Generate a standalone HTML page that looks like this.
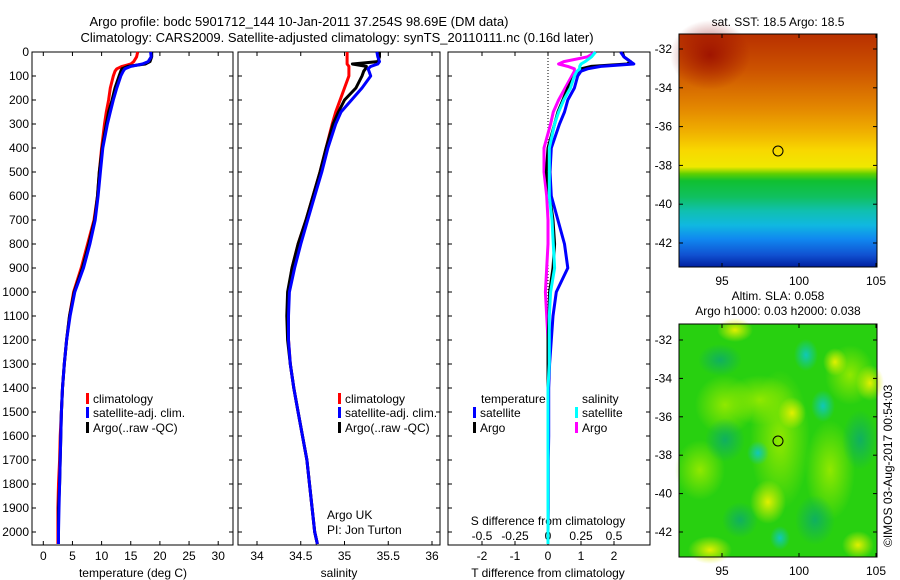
<!DOCTYPE html>
<html><head><meta charset="utf-8"><style>
html,body{margin:0;padding:0;background:#fff;}
svg{display:block;font-family:"Liberation Sans",sans-serif;}
text{font-size:12px;fill:#000;}
</style></head><body>
<svg id="fig" width="900" height="580" viewBox="0 0 900 580">
<defs>
<linearGradient id="sstGrad" x1="0" y1="0" x2="0" y2="1">
<stop offset="0" stop-color="#b83000"/><stop offset="0.15" stop-color="#cc5200"/>
<stop offset="0.32" stop-color="#e48800"/><stop offset="0.42" stop-color="#f0b000"/>
<stop offset="0.5" stop-color="#f8d800"/><stop offset="0.57" stop-color="#f0e800"/>
<stop offset="0.6" stop-color="#60d000"/><stop offset="0.63" stop-color="#10c030"/>
<stop offset="0.7" stop-color="#10c060"/><stop offset="0.76" stop-color="#10c0b0"/>
<stop offset="0.82" stop-color="#10b8e0"/><stop offset="0.88" stop-color="#1088f0"/>
<stop offset="0.95" stop-color="#1050d0"/><stop offset="1" stop-color="#0020a0"/>
</linearGradient>
<radialGradient id="blobY"><stop offset="0" stop-color="#e0f000"/><stop offset="1" stop-color="#e0f000" stop-opacity="0"/></radialGradient>
<radialGradient id="blobT"><stop offset="0" stop-color="#10c8b8"/><stop offset="1" stop-color="#10c8b8" stop-opacity="0"/></radialGradient>
<radialGradient id="blobD"><stop offset="0" stop-color="#10b060"/><stop offset="1" stop-color="#10b060" stop-opacity="0"/></radialGradient>
<radialGradient id="blobR"><stop offset="0" stop-color="#900000" stop-opacity="0.7"/><stop offset="1" stop-color="#900000" stop-opacity="0"/></radialGradient>
<radialGradient id="blobG"><stop offset="0" stop-color="#90e800"/><stop offset="1" stop-color="#90e800" stop-opacity="0"/></radialGradient>
</defs>
<text x="299" y="26" text-anchor="middle" style="font-size:13px">Argo profile: bodc 5901712_144 10-Jan-2011 37.254S 98.69E (DM data)</text>
<text x="337" y="42" text-anchor="middle" style="font-size:13px">Climatology: CARS2009. Satellite-adjusted climatology: synTS_20110111.nc (0.16d later)</text>
<g id="panels"></g>
<g id="maps">
<text x="778" y="26" text-anchor="middle">sat. SST: 18.5 Argo: 18.5</text>
<rect x="679" y="34" width="198" height="233" fill="url(#sstGrad)"/>
<ellipse cx="710" cy="55" rx="40" ry="35" fill="url(#blobR)"/>
<rect x="679" y="34" width="198" height="233" fill="none" stroke="#000"/>
<circle cx="778" cy="151" r="5" fill="none" stroke="#000"/>
<text x="778" y="300" text-anchor="middle">Altim. SLA: 0.058</text>
<text x="778" y="315" text-anchor="middle">Argo h1000: 0.03 h2000: 0.038</text>
<rect x="679" y="324" width="198" height="233" fill="#28d010"/>
<ellipse cx="780" cy="440" rx="30" ry="70" fill="url(#blobG)"/>
<ellipse cx="760" cy="400" rx="35" ry="25" fill="url(#blobG)"/>
<ellipse cx="830" cy="470" rx="25" ry="50" fill="url(#blobG)"/>
<ellipse cx="725" cy="405" rx="30" ry="30" fill="url(#blobG)"/>
<ellipse cx="700" cy="470" rx="25" ry="30" fill="url(#blobG)"/>
<ellipse cx="850" cy="375" rx="25" ry="30" fill="url(#blobG)"/>
<ellipse cx="768" cy="502" rx="18" ry="22" fill="url(#blobY)"/>
<ellipse cx="792" cy="413" rx="14" ry="16" fill="url(#blobY)"/>
<ellipse cx="735" cy="330" rx="18" ry="12" fill="url(#blobY)"/>
<ellipse cx="870" cy="383" rx="14" ry="18" fill="url(#blobY)"/>
<ellipse cx="710" cy="550" rx="22" ry="14" fill="url(#blobY)"/>
<ellipse cx="858" cy="545" rx="16" ry="14" fill="url(#blobY)"/>
<ellipse cx="835" cy="362" rx="12" ry="14" fill="url(#blobY)"/>
<ellipse cx="806" cy="355" rx="12" ry="16" fill="url(#blobT)"/>
<ellipse cx="823" cy="406" rx="12" ry="16" fill="url(#blobT)"/>
<ellipse cx="758" cy="453" rx="11" ry="12" fill="url(#blobT)"/>
<ellipse cx="780" cy="538" rx="10" ry="12" fill="url(#blobT)"/>
<ellipse cx="725" cy="440" rx="20" ry="22" fill="url(#blobD)"/>
<ellipse cx="720" cy="360" rx="22" ry="16" fill="url(#blobD)"/>
<ellipse cx="860" cy="440" rx="18" ry="30" fill="url(#blobD)"/>
<ellipse cx="740" cy="520" rx="18" ry="18" fill="url(#blobD)"/>
<ellipse cx="815" cy="520" rx="20" ry="25" fill="url(#blobD)"/>
<rect x="679" y="324" width="198" height="233" fill="none" stroke="#000"/>
<circle cx="778" cy="441" r="5" fill="none" stroke="#000"/>
<text transform="translate(892,547) rotate(-90)">©IMOS 03-Aug-2017 00:54:03</text>
</g>
</svg>
<script>
// ---------- data ----------
const depths = [0,20,40,50,60,70,80,100,150,200,250,300,400,500,600,700,800,900,1000,1100,1200,1300,1400,1500,1600,1700,1800,1900,2000,2050];
const tempClim = [16.2,16,15.5,15,13.5,12.6,12.3,12,11.5,11.2,10.8,10.5,10,9.6,9.3,8.7,7.6,6.5,5.2,4.5,4.0,3.6,3.3,3.1,2.9,2.8,2.6,2.5,2.5,2.5];
const tempSat = [18.4,18.5,18,17,15,14,13.7,13.3,12.6,12,11.5,11,10.2,9.8,9.4,8.9,8,6.9,5.4,4.6,4.0,3.6,3.3,3.1,3.0,2.9,2.8,2.7,2.6,2.6];
const tempArgo = [18.6,18.6,18.3,17.5,14.5,13.5,13.3,13,12.3,11.8,11.2,10.8,10.1,9.6,9.3,8.8,7.8,6.7,5.3,4.5,4.0,3.6,3.3,3.1,3.0,2.9,2.8,2.6,2.6,2.6];
const salClim = [35.03,35.03,35.03,35.03,35.05,35.05,35.05,35.05,35.0,34.95,34.9,34.86,34.79,34.72,34.64,34.56,34.47,34.4,34.36,34.35,34.36,34.38,34.42,34.47,34.52,34.57,34.6,34.63,34.66,34.69];
const salSat = [35.37,35.38,35.4,35.38,35.3,35.27,35.28,35.3,35.2,35.08,34.96,34.9,34.81,34.74,34.66,34.58,34.5,34.43,34.37,34.36,34.36,34.38,34.42,34.47,34.52,34.57,34.6,34.63,34.66,34.69];
const salArgo = [35.4,35.4,35.38,35.09,35.25,35.24,35.22,35.2,35.13,35.0,34.93,34.87,34.79,34.72,34.64,34.56,34.47,34.4,34.35,34.34,34.35,34.38,34.42,34.47,34.52,34.57,34.6,34.63,34.66,34.69];
const tDiffSat = [2.2,2.3,2.5,2.6,1.6,1.2,1.0,0.9,0.8,0.6,0.5,0.35,0.1,0.06,0.1,0.3,0.5,0.6,0.25,0.15,0.1,0.05,0.02,0.02,0.02,0.01,0.01,0.01,0.0,0.0];
const tDiffArgo = [2.25,2.3,2.5,2.4,1.3,1.0,0.9,0.8,0.6,0.45,0.3,0.2,0.0,-0.05,0.05,0.15,0.2,0.15,0.05,0.03,0,0,0,0,0,0,0,0,0,0];
const sDiffSat = [0.36,0.33,0.28,0.25,0.24,0.24,0.22,0.2,0.17,0.12,0.08,0.05,0.01,0.01,0.01,0.03,0.04,0.05,0.02,0.01,0.01,0.01,0,0,0,0,0,0,0,0];
const sDiffArgo = [0.36,0.3,0.12,0.08,0.15,0.2,0.2,0.18,0.13,0.08,0.04,0.02,-0.03,-0.03,-0.01,0,0,-0.01,-0.02,-0.01,0,0,0,0,0,0,0,0,0,0];
const depthTicks = [0,100,200,300,400,500,600,700,800,900,1000,1100,1200,1300,1400,1500,1600,1700,1800,1900,2000];
const tempTicks = [0,5,10,15,20,25,30];
const salTicks = [34,34.5,35,35.5,36];
const tDiffTicks = [-2,-1,0,1,2];
const sDiffTicks = [-0.5,-0.25,0,0.25,0.5];
const lonTicks = [95,100,105];
const latTicks = [-32,-34,-36,-38,-40,-42];

// ---------- scales ----------
const NS='http://www.w3.org/2000/svg';
const TOP=52, BOT=545;
const yD = d => TOP + d*0.24;
const xT = t => 43.3 + t*5.83;
const xS = s => 257 + (s-34)*87.5;
const xDT = t => 548 + t*33;
const xDS = s => 548 + s*132;
const mapX = lon => 722 + (lon-95)*15.4;
const lat1Y = la => 49 + (-32-la)*19.4;
const lat2Y = la => 340 + (-32-la)*19.2;

const root=document.getElementById('panels');
function mk(tag,attrs,parent){const e=document.createElementNS(NS,tag);for(const k in attrs)e.setAttribute(k,attrs[k]);(parent||root).appendChild(e);return e;}
function txt(x,y,s,anchor,parent){const e=mk('text',{x:x,y:y,'text-anchor':anchor||'middle'},parent);e.textContent=s;return e;}

function panel(name,x0,x1){
  const g=mk('g',{});
  
  
  const r=mk('rect',{x:x0,y:TOP,width:x1-x0,height:BOT-TOP,fill:'none',stroke:'#000'},g);
  
  
  depthTicks.forEach(d=>{
    mk('line',{x1:x0,x2:x0+4,y1:yD(d),y2:yD(d),stroke:'#000'},g);
    mk('line',{x1:x1-4,x2:x1,y1:yD(d),y2:yD(d),stroke:'#000'},g);
  });
  return g;
}
function series(g,xf,vals,color,name,w){
  const pts=vals.map((v,i)=>xf(v).toFixed(1)+','+yD(depths[i]).toFixed(1)).join(' ');
  const p=mk('polyline',{points:pts,fill:'none',stroke:color,'stroke-width':w||3,'stroke-linejoin':'round'},g);
  
  
}
function xticks(g,ticks,xf,labelY,fmt){
  ticks.forEach(t=>{
    const x=xf(t);
    mk('line',{x1:x,x2:x,y1:BOT,y2:BOT-4,stroke:'#000'},g);
    mk('line',{x1:x,x2:x,y1:TOP,y2:TOP+4,stroke:'#000'},g);
    const l=txt(x,labelY,fmt?fmt(t):String(t),'middle',g);
    
    
  });
}
function legendItem(g,x,y,color,label){
  const b=mk('rect',{x:x,y:y-10,width:3,height:11,fill:color},g);
  
  
  const t=txt(x+7,y,label,'start',g);
  
  
}

// depth axis labels
const ya=mk('g',{});


depthTicks.forEach(d=>{const t=txt(29,yD(d)+4,String(d),'end',ya);
  
  });

// panel 1: temperature
const p1=panel('temperature-panel',32,233);
xticks(p1,tempTicks,xT,560);
series(p1,xT,tempClim,'#ff0000','temp-climatology-line');
series(p1,xT,tempArgo,'#000000','temp-argo-line');
series(p1,xT,tempSat,'#0000ff','temp-satellite-line');
const t1=txt(133,577,'temperature (deg C)','middle',p1);


legendItem(p1,86,403,'#ff0000','climatology');
legendItem(p1,86,417,'#0000ff','satellite-adj. clim.');
legendItem(p1,86,432,'#000000','Argo(..raw -QC)');

// panel 2: salinity
const p2=panel('salinity-panel',238,440);
xticks(p2,salTicks,xS,560);
series(p2,xS,salClim,'#ff0000','sal-climatology-line');
series(p2,xS,salArgo,'#000000','sal-argo-line');
series(p2,xS,salSat,'#0000ff','sal-satellite-line');
const t2=txt(339,577,'salinity','middle',p2);


legendItem(p2,338,403,'#ff0000','climatology');
legendItem(p2,338,417,'#0000ff','satellite-adj. clim.');
legendItem(p2,338,432,'#000000','Argo(..raw -QC)');
const c1=txt(327,519,'Argo UK','start',p2);


const c2=txt(327,534,'PI: Jon Turton','start',p2);



// panel 3: differences
const p3=panel('difference-panel',448,650);
mk('line',{x1:548,x2:548,y1:TOP,y2:BOT,stroke:'#000','stroke-dasharray':'1,2'},p3);
xticks(p3,tDiffTicks,xDT,560);
sDiffTicks.forEach(s=>{const l=txt(xDS(s),540,String(s),'middle',p3);
  
  });
const s3=txt(548,525,'S difference from climatology','middle',p3);


series(p3,xDS,sDiffArgo,'#ff00ff','s-diff-argo-line');
series(p3,xDT,tDiffArgo,'#000000','t-diff-argo-line');
series(p3,xDT,tDiffSat,'#0000ff','t-diff-satellite-line');
series(p3,xDS,sDiffSat,'#00ffff','s-diff-satellite-line');
const t3=txt(548,577,'T difference from climatology','middle',p3);


const lt=txt(481,403,'temperature','start',p3);


const ls=txt(582,403,'salinity','start',p3);


legendItem(p3,473,417,'#0000ff','satellite');
legendItem(p3,473,432,'#000000','Argo');
legendItem(p3,575,417,'#00ffff','satellite');
legendItem(p3,575,432,'#ff00ff','Argo');

// map axes
const mg=document.getElementById('maps');
[[34,267,lat1Y],[324,557,lat2Y]].forEach(([top,bot,yf],k)=>{
  lonTicks.forEach(l=>{
    const x=mapX(l);
    mk('line',{x1:x,x2:x,y1:bot,y2:bot-4,stroke:'#000'},mg);
    mk('line',{x1:x,x2:x,y1:top,y2:top+4,stroke:'#000'},mg);
    const t=txt(x,bot+18,String(l),'middle',mg);
    
    
  });
  latTicks.forEach(la=>{
    const y=yf(la);
    mk('line',{x1:679,x2:683,y1:y,y2:y,stroke:'#000'},mg);
    mk('line',{x1:873,x2:877,y1:y,y2:y,stroke:'#000'},mg);
    const t=txt(672,y+4,String(la),'end',mg);
    
    
  });
});
</script>
</body></html>
